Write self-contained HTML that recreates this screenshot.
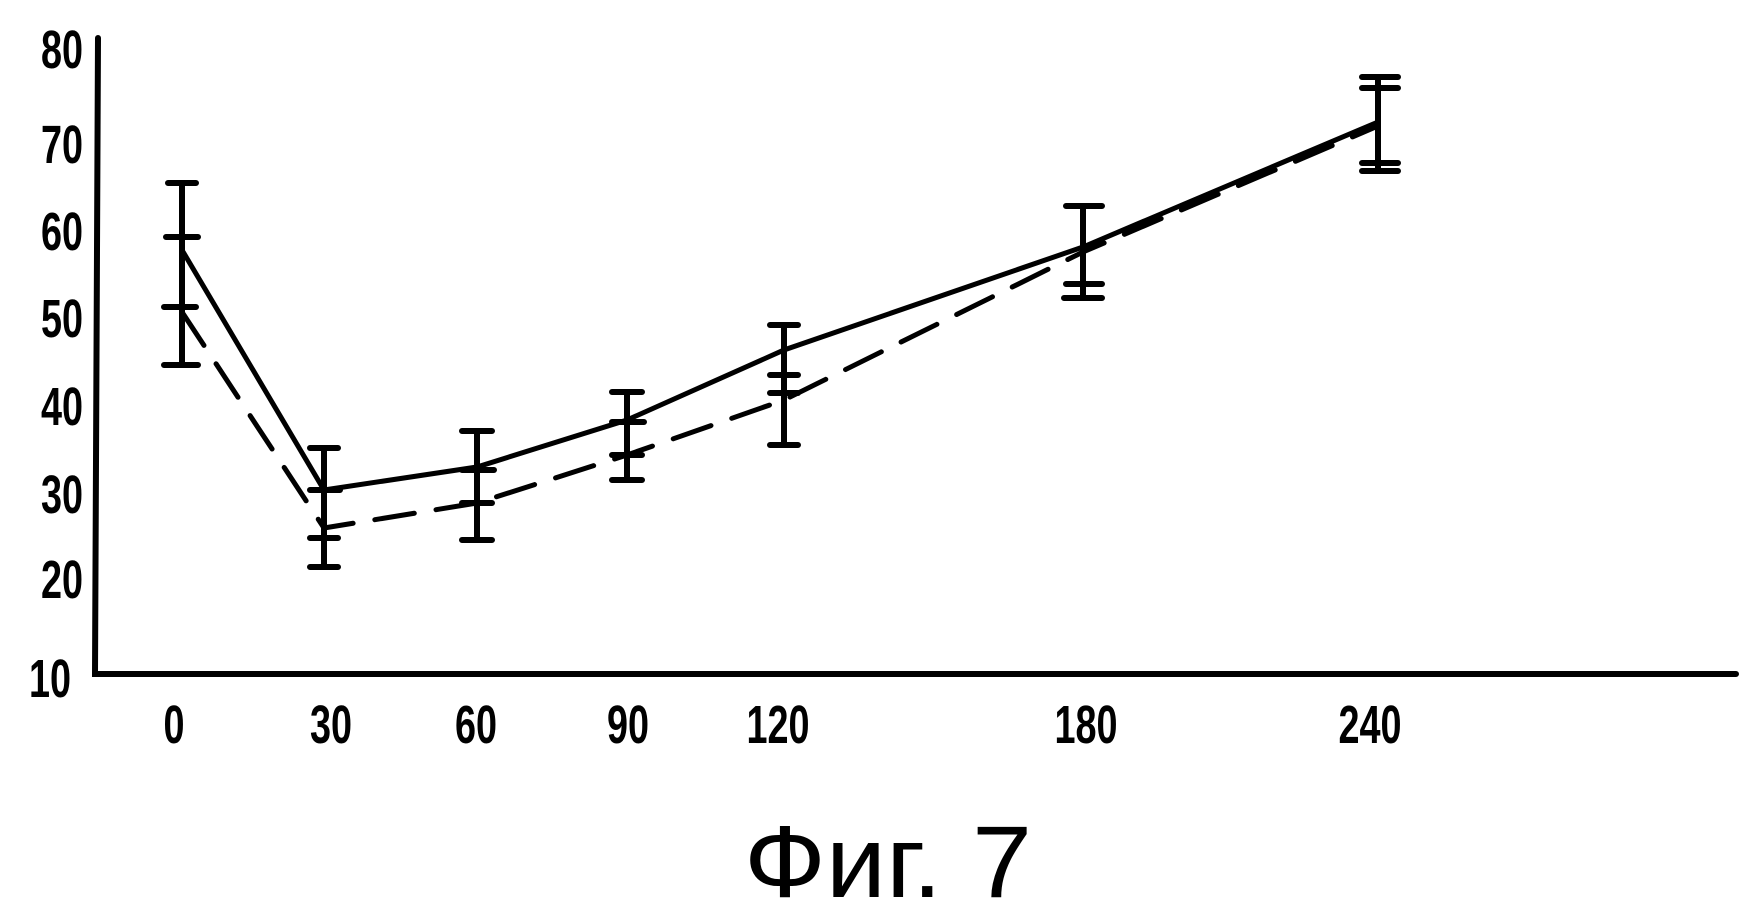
<!DOCTYPE html>
<html><head><meta charset="utf-8"><style>
html,body{margin:0;padding:0;background:#fff;}
svg{display:block;}
text{font-family:"Liberation Sans",sans-serif;fill:#000;}
</style></head><body>
<svg width="1744" height="917" viewBox="0 0 1744 917" xmlns="http://www.w3.org/2000/svg">
<g stroke="#000" fill="none" stroke-linecap="round">
<path d="M98 38 L95 674 L1736 674" stroke-width="6"/>
<polyline points="182,250 324,490 477,467 627,420 784,350 1083,247 1378,122" stroke-width="5"/>
<polyline points="182,312 324,528 477,503 627,455 784,400 1083,252 1378,126" stroke-width="5" stroke-dasharray="40,22"/>
<g stroke-width="6">
<path d="M182 183 V365 M168 183 H196 M166 237 H198 M164 307 H196 M164 365 H198"/>
<path d="M324 448 V567 M310 448 H338 M310 490 H340 M310 538 H338 M310 567 H338"/>
<path d="M477 431 V540 M462 431 H492 M462 470 H494 M462 503 H492 M462 540 H492"/>
<path d="M627 392 V480 M612 392 H642 M612 422 H644 M612 455 H642 M612 480 H642"/>
<path d="M784 325 V445 M770 325 H798 M770 375 H798 M770 393 H798 M770 445 H798"/>
<path d="M1083 206 V298 M1066 206 H1102 M1066 284 H1102 M1064 298 H1102"/>
<path d="M1378 77 V171 M1362 77 H1398 M1362 88 H1398 M1362 163 H1398 M1362 171 H1398"/>
</g>
</g>
<g font-size="54" font-weight="bold" text-anchor="middle">
<text transform="translate(62,68) scale(0.7,1)">80</text>
<text transform="translate(62,163) scale(0.7,1)">70</text>
<text transform="translate(62,250) scale(0.7,1)">60</text>
<text transform="translate(62,337) scale(0.7,1)">50</text>
<text transform="translate(62,425) scale(0.7,1)">40</text>
<text transform="translate(62,513) scale(0.7,1)">30</text>
<text transform="translate(62,598) scale(0.7,1)">20</text>
<text transform="translate(50,697) scale(0.7,1)">10</text>
<text transform="translate(174,743) scale(0.7,1)">0</text>
<text transform="translate(331,743) scale(0.7,1)">30</text>
<text transform="translate(476,743) scale(0.7,1)">60</text>
<text transform="translate(628,743) scale(0.7,1)">90</text>
<text transform="translate(778,743) scale(0.7,1)">120</text>
<text transform="translate(1086,743) scale(0.7,1)">180</text>
<text transform="translate(1370,743) scale(0.7,1)">240</text>
</g>
<text x="888" y="897" font-size="102" text-anchor="middle" textLength="288" lengthAdjust="spacingAndGlyphs">Фиг. 7</text>
</svg>
</body></html>
